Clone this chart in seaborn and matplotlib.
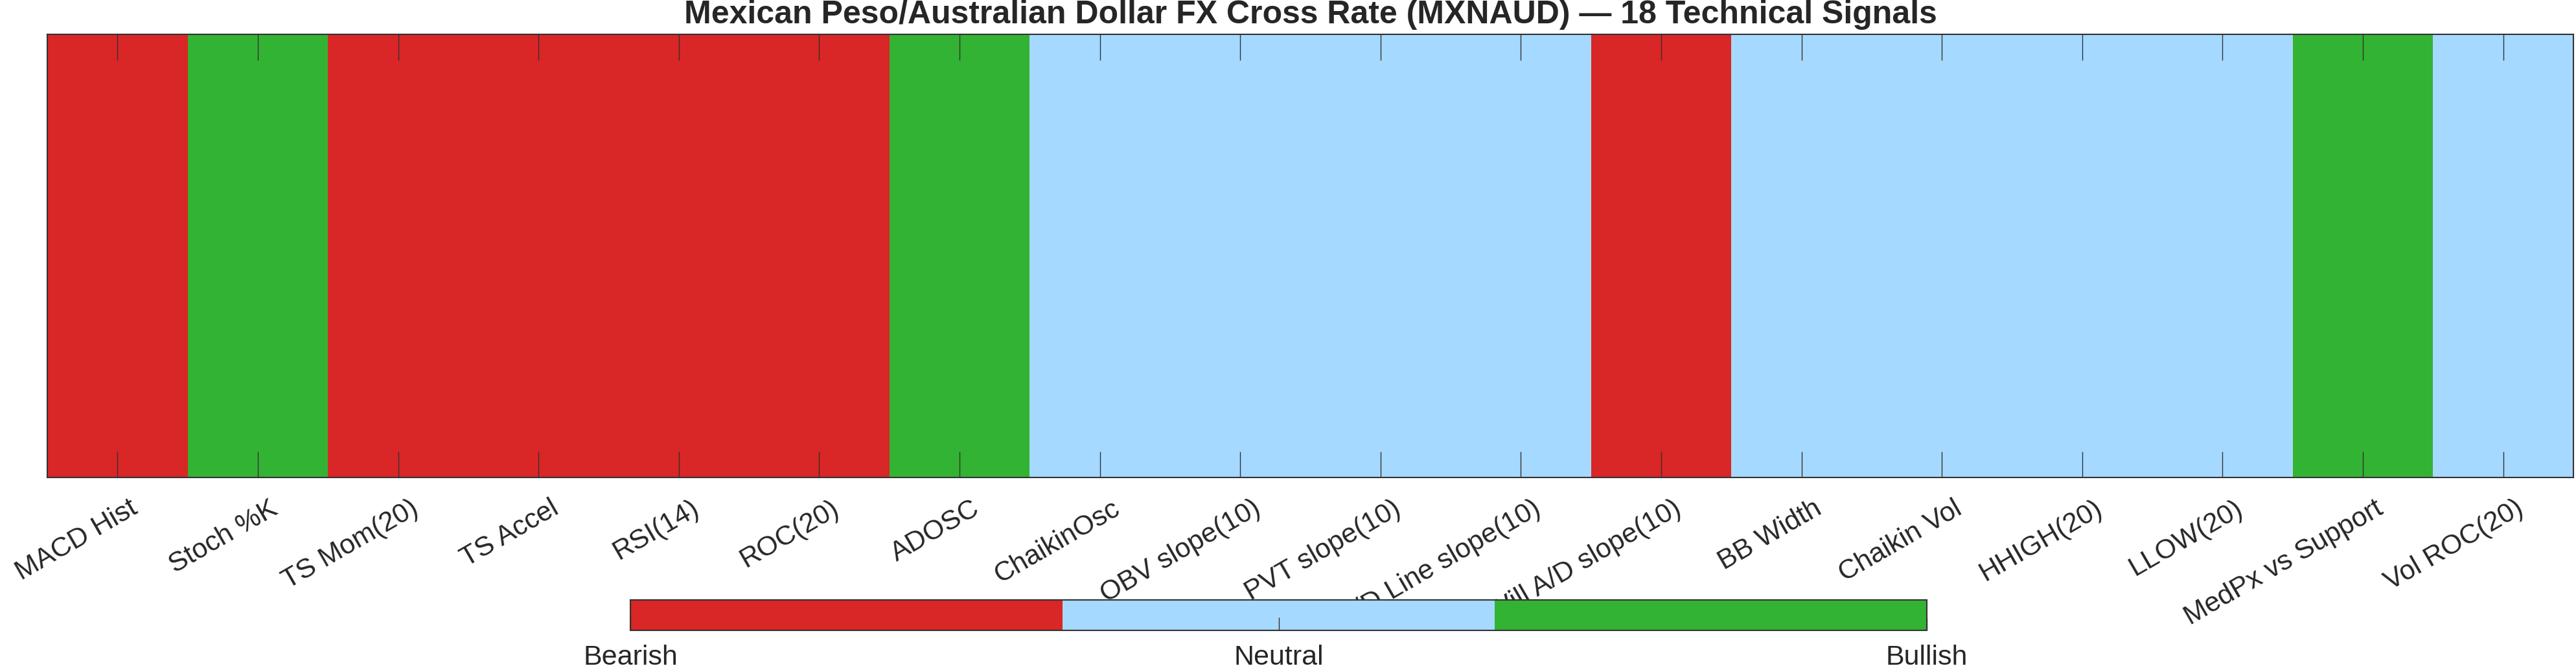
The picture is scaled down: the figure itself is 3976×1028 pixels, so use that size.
import numpy as np
import pandas as pd
import matplotlib
matplotlib.use("Agg")
import matplotlib.pyplot as plt
import matplotlib.transforms as mtransforms
from matplotlib.colors import ListedColormap
import seaborn as sns

# ---- data ----
signal_names = ["MACD Hist", "Stoch %K", "TS Mom(20)", "TS Accel", "RSI(14)", "ROC(20)",
                "ADOSC", "ChaikinOsc", "OBV slope(10)", "PVT slope(10)", "A/D Line slope(10)",
                "Will A/D slope(10)", "BB Width", "Chaikin Vol", "HHIGH(20)", "LLOW(20)",
                "MedPx vs Support", "Vol ROC(20)"]
signal_values = [-1, 1, -1, -1, -1, -1, 1, 0, 0, 0, 0, -1, 0, 0, 0, 0, 1, 0]
state_labels = ["Bearish", "Neutral", "Bullish"]
state_values = [-1, 0, 1]
title = "Mexican Peso/Australian Dollar FX Cross Rate (MXNAUD) \u2014 18 Technical Signals"

sns.set_theme(style="white")
plt.rcParams["font.family"] = ["Liberation Sans", "DejaVu Sans"]

W, H, DPI = 3976, 1028, 100
fig = plt.figure(figsize=(W / DPI, H / DPI), dpi=DPI)
ax = fig.add_axes([73 / W, 1 - 737 / H, (3972 - 73) / W, (737 - 53) / H])
cax = fig.add_axes([973 / W, 1 - 973 / H, (2974 - 973) / W, 47 / H])

cmap = ListedColormap([(0.85, 0.15, 0.15), (0.65, 0.85, 1.0), (0.2, 0.7, 0.2)])
df = pd.DataFrame([signal_values], columns=signal_names)

sns.heatmap(df, ax=ax, cmap=cmap, vmin=-1, vmax=1, cbar=True, cbar_ax=cax,
            cbar_kws={"orientation": "horizontal", "ticks": state_values},
            xticklabels=True, yticklabels=False)

text_color = "#262626"
edge = "#333333"
ax.set_axisbelow(False)
cax.set_axisbelow(False)
for s in ax.spines.values():
    s.set_visible(True)
    s.set_color(edge)
    s.set_linewidth(1.5)

ax.set_xlabel("")
ax.set_ylabel("")
ax.tick_params(axis="x", which="both", direction="in", top=True, bottom=True,
               length=28.8, width=1.0, color=edge, labelsize=30.5,
               labelcolor=text_color, pad=20)
ax.tick_params(axis="y", left=False, right=False)
offset = mtransforms.ScaledTranslation(18 / DPI, 0, fig.dpi_scale_trans)
for lbl in ax.get_xticklabels():
    lbl.set_rotation(30)
    lbl.set_ha("right")
    lbl.set_va("top")
    lbl.set_rotation_mode("anchor")
    lbl.set_transform(lbl.get_transform() + offset)

ax.set_title(title, fontsize=36, fontweight="bold", color=text_color, pad=12)

cbar = ax.collections[0].colorbar
cbar.set_ticks(state_values)
cbar.set_ticklabels(state_labels)
cbar.outline.set_edgecolor(edge)
cbar.outline.set_linewidth(1.5)
cax.tick_params(axis="x", direction="in", length=14.4, width=1.0, color=edge,
                labelsize=31, labelcolor=text_color, pad=16)

fig.savefig("out.png", dpi=DPI)
